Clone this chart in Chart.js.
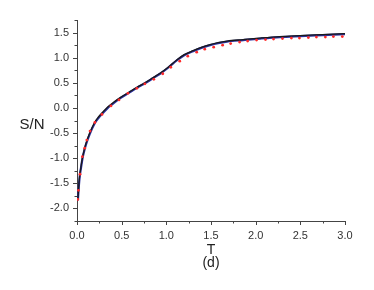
<!DOCTYPE html>
<html>
<head>
<meta charset="utf-8">
<script src="https://cdn.jsdelivr.net/npm/chart.js@4.4.1/dist/chart.umd.min.js"></script>
<style>
  html, body { margin: 0; padding: 0; background: #fff; }
  #wrap { width: 374px; height: 290px; }
</style>
</head>
<body>
<div id="wrap"><canvas id="c"></canvas></div>
<script>
// curve sample positions (T) and S/N values
const blackT = [0.01, 0.02, 0.03, 0.045, 0.06, 0.08, 0.1, 0.14, 0.2, 0.24, 0.29, 0.35, 0.4, 0.48, 0.58, 0.67, 0.76, 0.85, 0.93, 1.02, 1.12, 1.2, 1.3, 1.4, 1.49, 1.58, 1.68, 1.86, 2.05, 2.27, 2.5, 2.75, 3.0];
const blackSN = [-1.82, -1.55, -1.35, -1.17, -1.0, -0.84, -0.71, -0.51, -0.28, -0.18, -0.08, 0.03, 0.1, 0.2, 0.31, 0.41, 0.5, 0.6, 0.69, 0.81, 0.96, 1.06, 1.14, 1.21, 1.26, 1.30, 1.33, 1.36, 1.39, 1.42, 1.44, 1.46, 1.48];
const blueSN = [-1.84, -1.57, -1.37, -1.19, -1.02, -0.86, -0.73, -0.53, -0.30, -0.20, -0.10, 0.01, 0.08, 0.19, 0.30, 0.40, 0.49, 0.59, 0.68, 0.80, 0.95, 1.05, 1.13, 1.20, 1.25, 1.29, 1.32, 1.35, 1.38, 1.41, 1.43, 1.45, 1.47];
const redT = [0.008, 0.016, 0.034, 0.06, 0.086, 0.11, 0.146, 0.2, 0.28, 0.38, 0.47, 0.57, 0.67, 0.76, 0.86, 0.96, 1.05, 1.15, 1.24, 1.34, 1.43, 1.53, 1.63, 1.72, 1.82, 1.91, 2.01, 2.11, 2.2, 2.3, 2.4, 2.49, 2.59, 2.68, 2.78, 2.87, 2.97];
const redSN = [-1.82, -1.64, -1.32, -0.97, -0.8, -0.64, -0.46, -0.29, -0.13, 0.04, 0.16, 0.29, 0.39, 0.48, 0.57, 0.68, 0.81, 0.93, 1.03, 1.11, 1.17, 1.21, 1.25, 1.28, 1.31, 1.33, 1.35, 1.36, 1.37, 1.38, 1.39, 1.39, 1.40, 1.41, 1.41, 1.42, 1.42];
const xMajor = [0, 0.5, 1.0, 1.5, 2.0, 2.5, 3.0];
const xMinor = [0.25, 0.75, 1.25, 1.75, 2.25, 2.75];
const yMajor = [-2.0, -1.5, -1.0, -0.5, 0.0, 0.5, 1.0, 1.5];
const yMinor = [-2.25, -1.75, -1.25, -0.75, -0.25, 0.25, 0.75, 1.25, 1.75];

const pts = (xs, ys) => xs.map((x, i) => ({ x, y: ys[i] }));
const axisColor = "#444";
const font = "Liberation Sans, Arial, sans-serif";

// outward tick marks (major and minor) and the horizontal S/N label
const ticksPlugin = {
  id: "ticksPlugin",
  afterDraw(chart) {
    const ctx = chart.ctx;
    const xs = chart.scales.x, ys = chart.scales.y;
    const a = chart.chartArea;
    ctx.save();
    ctx.strokeStyle = axisColor;
    ctx.lineWidth = 1;
    ctx.beginPath();
    xMajor.forEach((v) => { const p = Math.round(xs.getPixelForValue(v)) + 0.5; ctx.moveTo(p, a.bottom); ctx.lineTo(p, a.bottom + 4); });
    xMinor.forEach((v) => { const p = Math.round(xs.getPixelForValue(v)) + 0.5; ctx.moveTo(p, a.bottom); ctx.lineTo(p, a.bottom + 2.5); });
    yMajor.forEach((v) => { const p = Math.round(ys.getPixelForValue(v)) + 0.5; ctx.moveTo(a.left, p); ctx.lineTo(a.left - 4, p); });
    yMinor.forEach((v) => { const p = Math.round(ys.getPixelForValue(v)) + 0.5; ctx.moveTo(a.left, p); ctx.lineTo(a.left - 2.5, p); });
    ctx.stroke();
    ctx.fillStyle = "#222";
    ctx.font = "15px " + font;
    ctx.textAlign = "center";
    ctx.textBaseline = "middle";
    ctx.fillText("S/N", 32, 125);
    ctx.restore();
  },
};

new Chart(document.getElementById("c"), {
  type: "line",
  data: {
    datasets: [
      {
        data: pts(redT, redSN),
        showLine: false,
        pointRadius: 1.4,
        pointBackgroundColor: "#ff2a2a",
        pointBorderWidth: 0,
      },
      {
        data: pts(blackT, blackSN),
        borderColor: "#1a1a1a",
        borderWidth: 1.3,
        pointRadius: 0,
        cubicInterpolationMode: "monotone",
      },
      {
        data: pts(blackT, blueSN),
        borderColor: "#2b2f9e",
        borderWidth: 2.2,
        pointRadius: 0,
        cubicInterpolationMode: "monotone",
      },
    ],
  },
  options: {
    responsive: true,
    maintainAspectRatio: false,
    animation: false,
    layout: { padding: { left: 0, right: 29, top: 20, bottom: 21 } },
    plugins: { legend: { display: false }, tooltip: { enabled: false } },
    scales: {
      x: {
        type: "linear",
        min: 0,
        max: 3,
        afterBuildTicks: (s) => { s.ticks = xMajor.map((v) => ({ value: v })); },
        afterFit: (s) => { s.height = 48; },
        grid: { display: false, drawTicks: false },
        border: { display: true, color: axisColor, width: 1 },
        ticks: {
          padding: 8,
          color: "#333",
          font: { family: font, size: 11 },
          maxRotation: 0,
          callback: (v) => v.toFixed(1),
        },
        title: {
          display: true,
          text: ["T", "(d)"],
          color: "#222",
          font: { family: font, size: 14, lineHeight: 0.88 },
          padding: { top: 2, bottom: 0 },
        },
      },
      y: {
        type: "linear",
        min: -2.25,
        max: 1.75,
        afterBuildTicks: (s) => { s.ticks = yMajor.map((v) => ({ value: v })); },
        afterFit: (s) => { s.width = 77; },
        grid: { display: false, drawTicks: false },
        border: { display: true, color: axisColor, width: 1 },
        ticks: {
          padding: 8,
          color: "#333",
          font: { family: font, size: 11 },
          callback: (v) => v.toFixed(1),
        },
      },
    },
  },
  plugins: [ticksPlugin],
});
</script>
</body>
</html>
